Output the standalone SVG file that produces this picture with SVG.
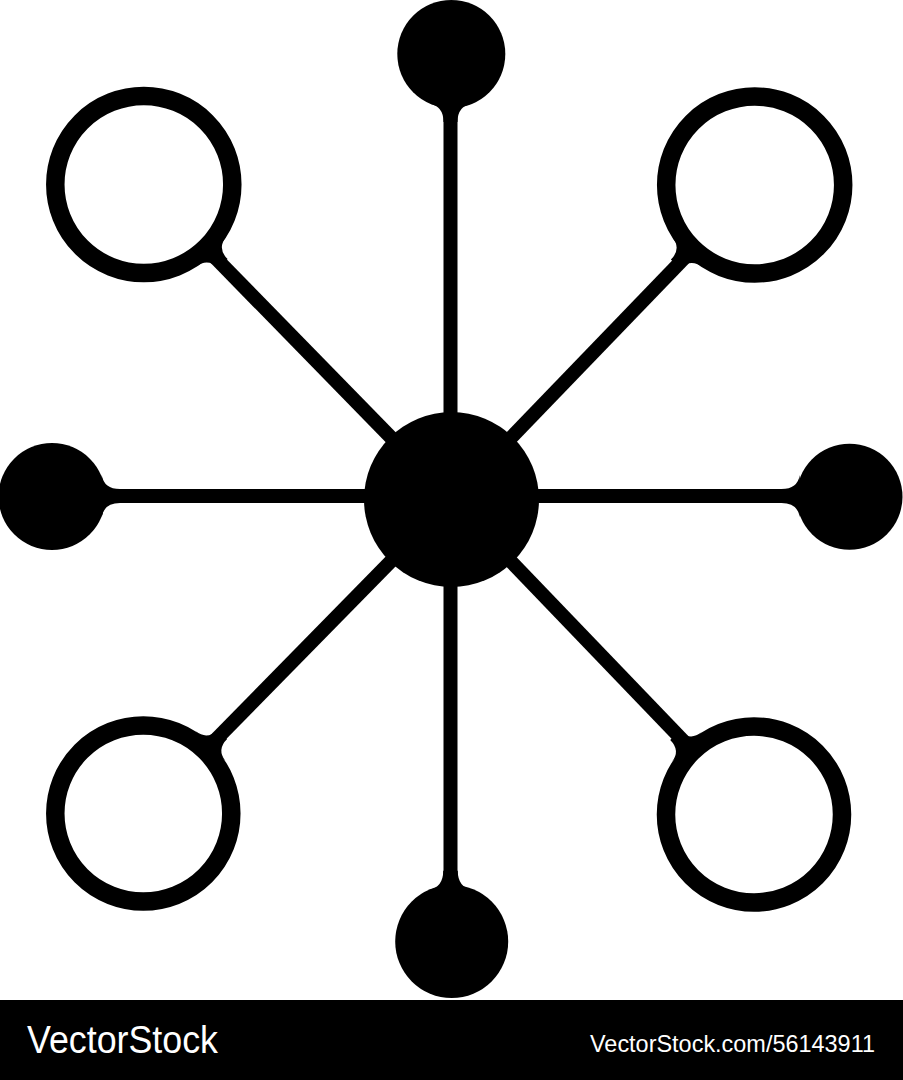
<svg xmlns="http://www.w3.org/2000/svg" width="903" height="1080" viewBox="0 0 903 1080">
<style>
.ln{stroke:#000;stroke-width:14;fill:none}
.dot{fill:#000}
.ring{fill:#fff;stroke:#000;stroke-width:18.5}
.wm{fill:#fff;font-family:"Liberation Sans",Arial,sans-serif}
</style>
<defs>
<path id="neckDot" d="M -7 68 Q -7 52 -21 49.7 L 21 49.7 Q 7 52 7 68 Z" fill="#000"/>
<path id="neckRing" d="M -6.5 112 Q -6.5 97 -21 95.2 L 21 95.2 Q 6.5 97 6.5 112 Z" fill="#000"/>
</defs>
<rect width="903" height="1080" fill="#fff"/>
<g id="connectors">
<line class="ln" x1="450.5" y1="60" x2="450.5" y2="940"/>
<line class="ln" x1="52" y1="496" x2="850" y2="496"/>
<line class="ln" x1="143.8" y1="184.5" x2="451.5" y2="499.5"/>
<line class="ln" x1="754.7" y1="185" x2="451.5" y2="499.5"/>
<line class="ln" x1="143.3" y1="813.5" x2="451.5" y2="499.5"/>
<line class="ln" x1="754" y1="814.5" x2="451.5" y2="499.5"/>
</g>
<g id="center"><circle class="dot" cx="451.5" cy="499.5" r="87.5"/></g>
<g id="top"><circle class="dot" cx="451.3" cy="54" r="54"/><use href="#neckDot" transform="translate(450.5,54)"/></g>
<g id="bottom"><circle class="dot" cx="451.7" cy="941.5" r="56.5"/><use href="#neckDot" transform="translate(450.5,941.5) rotate(180) scale(1.04)"/></g>
<g id="left"><circle class="dot" cx="52" cy="496.5" r="53.5"/><use href="#neckDot" transform="translate(52,496) rotate(-90)"/></g>
<g id="right"><circle class="dot" cx="849.5" cy="496.7" r="53"/><use href="#neckDot" transform="translate(849.5,496) rotate(90)"/></g>
<g id="ringTL"><use href="#neckRing" transform="translate(143.8,184.5) rotate(-45)"/><circle class="ring" cx="143.8" cy="184.5" r="88.5"/></g>
<g id="ringTR"><use href="#neckRing" transform="translate(754.7,185) rotate(45)"/><circle class="ring" cx="754.7" cy="185" r="88.5"/></g>
<g id="ringBL"><use href="#neckRing" transform="translate(143.3,813.5) rotate(-135)"/><circle class="ring" cx="143.3" cy="813.5" r="88"/></g>
<g id="ringBR"><use href="#neckRing" transform="translate(754,814.5) rotate(135)"/><circle class="ring" cx="754" cy="814.5" r="88"/></g>
<g id="watermark">
<rect x="0" y="1000" width="903" height="80" fill="#000"/>
<text class="wm" x="27" y="1053" font-size="38" textLength="191" lengthAdjust="spacingAndGlyphs">VectorStock</text>
<text class="wm" x="590" y="1052" font-size="24.5" textLength="285" lengthAdjust="spacingAndGlyphs">VectorStock.com/56143911</text>
</g>
</svg>
